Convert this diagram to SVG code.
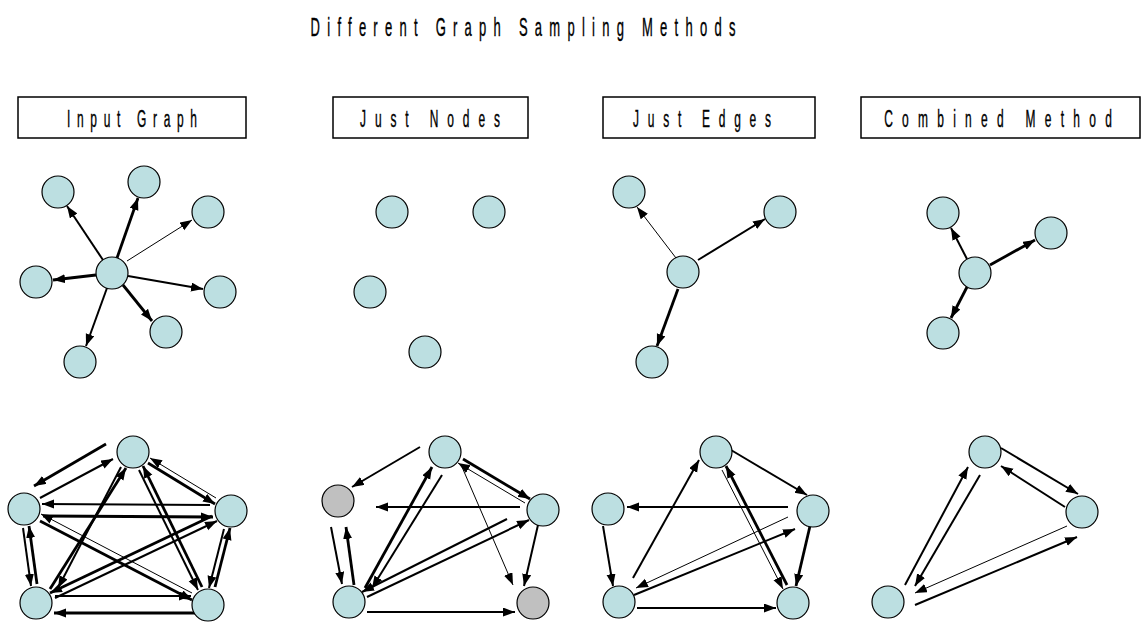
<svg xmlns="http://www.w3.org/2000/svg" width="1145" height="623" viewBox="0 0 1145 623">
<style>
.node{fill:#BCDFE1;stroke:#000;stroke-width:1.2}
.gray{fill:#C0C0C0}
.e line{stroke:#000;fill:none;marker-end:url(#ah)}
.w1{stroke-width:1}
.w2{stroke-width:2}
.w3{stroke-width:2.8}
.box{fill:#fff;stroke:#000;stroke-width:1.5}
text{font-family:"Liberation Sans",Arial,sans-serif;fill:#000;stroke:#000;stroke-width:0.4}
</style>
<defs>
<marker id="ah" markerUnits="userSpaceOnUse" markerWidth="13" markerHeight="10" refX="12" refY="4.5" orient="auto"><path d="M0,0 L12,4.5 L0,9 z" fill="#000"/></marker>
</defs>
<rect width="1145" height="623" fill="#fff"/>
<text id="title" transform="translate(523,36) scale(0.52,1)" text-anchor="middle" font-size="25" textLength="817" lengthAdjust="spacing">Different Graph Sampling Methods</text>

<g id="label-input"><rect class="box" x="18" y="97" width="228" height="41"/><text transform="translate(132,127) scale(0.52,1)" text-anchor="middle" font-size="23" textLength="250" lengthAdjust="spacing">Input Graph</text></g>
<g id="label-nodes"><rect class="box" x="333" y="97" width="195" height="41"/><text transform="translate(430,127) scale(0.52,1)" text-anchor="middle" font-size="23" textLength="269" lengthAdjust="spacing">Just Nodes</text></g>
<g id="label-edges"><rect class="box" x="603" y="97" width="212" height="41"/><text transform="translate(702,127) scale(0.52,1)" text-anchor="middle" font-size="23" textLength="265" lengthAdjust="spacing">Just Edges</text></g>
<g id="label-combined"><rect class="box" x="861" y="97" width="279" height="41"/><text transform="translate(998,127) scale(0.52,1)" text-anchor="middle" font-size="23" textLength="438" lengthAdjust="spacing">Combined Method</text></g>

<g id="connectors" class="e">
<!-- Input top -->
<line class="w2" x1="103" y1="260" x2="67" y2="206"/>
<line class="w3" x1="117" y1="258" x2="138" y2="198"/>
<line class="w1" x1="127" y1="261" x2="192" y2="220"/>
<line class="w3" x1="96" y1="275" x2="53" y2="280"/>
<line class="w2" x1="128" y1="276" x2="203" y2="289"/>
<line class="w3" x1="123" y1="285" x2="152" y2="321"/>
<line class="w2" x1="107" y1="288" x2="86" y2="346"/>
<!-- Just Edges top -->
<line class="w1" x1="676" y1="258" x2="637" y2="207"/>
<line class="w2" x1="698" y1="260" x2="765" y2="219"/>
<line class="w3" x1="678" y1="289" x2="657" y2="346"/>
<!-- Combined top -->
<line class="w2" x1="967" y1="259" x2="951" y2="228"/>
<line class="w3" x1="990" y1="265" x2="1035" y2="240"/>
<line class="w3" x1="967" y1="287" x2="951" y2="318"/>
<!-- Input bottom -->
<line class="w3" x1="106" y1="444" x2="34" y2="486"/>
<line class="w2" x1="40" y1="498" x2="113" y2="459"/>
<line class="w3" x1="148" y1="463" x2="215" y2="504"/>
<line class="w1" x1="216" y1="498" x2="150" y2="458"/>
<line class="w2" x1="121" y1="467" x2="58" y2="588"/>
<line class="w3" x1="50" y1="589" x2="126" y2="468"/>
<line class="w2" x1="139" y1="470" x2="198" y2="590"/>
<line class="w3" x1="202" y1="587" x2="143" y2="466"/>
<line class="w2" x1="210" y1="505" x2="42" y2="504"/>
<line class="w3" x1="43" y1="516" x2="213" y2="517"/>
<line class="w2" x1="23" y1="528" x2="31" y2="586"/>
<line class="w3" x1="37" y1="584" x2="29" y2="526"/>
<line class="w3" x1="40" y1="521" x2="192" y2="600"/>
<line class="w1" x1="192" y1="593" x2="41" y2="514"/>
<line class="w3" x1="212" y1="516" x2="50" y2="593"/>
<line class="w2" x1="55" y1="598" x2="217" y2="521"/>
<line class="w2" x1="224" y1="529" x2="209" y2="588"/>
<line class="w3" x1="215" y1="587" x2="230" y2="528"/>
<line class="w2" x1="55" y1="596" x2="191" y2="596"/>
<line class="w3" x1="195" y1="613" x2="54" y2="613"/>
<!-- Just Nodes bottom -->
<line class="w2" x1="420" y1="447" x2="352" y2="487"/>
<line class="w3" x1="463" y1="459" x2="530" y2="499"/>
<line class="w1" x1="525" y1="503" x2="458" y2="463"/>
<line class="w2" x1="520" y1="507" x2="376" y2="507"/>
<line class="w2" x1="331" y1="527" x2="342" y2="584"/>
<line class="w3" x1="354" y1="585" x2="346" y2="527"/>
<line class="w3" x1="365" y1="588" x2="432" y2="467"/>
<line class="w2" x1="442" y1="475" x2="372" y2="588"/>
<line class="w2" x1="367" y1="597" x2="529" y2="520"/>
<line class="w2" x1="507" y1="519" x2="362" y2="592"/>
<line class="w2" x1="367" y1="612" x2="515" y2="612"/>
<line class="w1" x1="462" y1="467" x2="513" y2="585"/>
<line class="w2" x1="538" y1="525" x2="524" y2="586"/>
<!-- Just Edges bottom -->
<line class="w2" x1="731" y1="450" x2="807" y2="495"/>
<line class="w2" x1="788" y1="507" x2="627" y2="507"/>
<line class="w2" x1="603" y1="526" x2="613" y2="586"/>
<line class="w2" x1="633" y1="578" x2="699" y2="460"/>
<line class="w2" x1="634" y1="595" x2="795" y2="529"/>
<line class="w1" x1="788" y1="517" x2="636" y2="588"/>
<line class="w1" x1="722" y1="470" x2="783" y2="589"/>
<line class="w3" x1="787" y1="585" x2="726" y2="466"/>
<line class="w3" x1="810" y1="526" x2="796" y2="586"/>
<line class="w2" x1="637" y1="608" x2="776" y2="608"/>
<!-- Combined bottom -->
<line class="w2" x1="1001" y1="448" x2="1078" y2="494"/>
<line class="w2" x1="1065" y1="507" x2="1001" y2="466"/>
<line class="w2" x1="905" y1="585" x2="968" y2="467"/>
<line class="w2" x1="980" y1="475" x2="915" y2="586"/>
<line class="w1" x1="1067" y1="526" x2="915" y2="593"/>
<line class="w2" x1="915" y1="605" x2="1077" y2="537"/>
</g>

<g id="input-top">
<circle id="it-c" class="node" cx="112" cy="273" r="16"/>
<circle id="it-tl" class="node" cx="58" cy="192" r="16"/>
<circle id="it-t" class="node" cx="144" cy="182" r="16"/>
<circle id="it-ru" class="node" cx="208" cy="212" r="16"/>
<circle id="it-l" class="node" cx="36" cy="282" r="16"/>
<circle id="it-r" class="node" cx="220" cy="292" r="16"/>
<circle id="it-lr" class="node" cx="166" cy="332" r="16"/>
<circle id="it-b" class="node" cx="80" cy="362" r="16"/>
</g>
<g id="nodes-top">
<circle id="nt-1" class="node" cx="392" cy="212" r="16"/>
<circle id="nt-2" class="node" cx="489" cy="212" r="16"/>
<circle id="nt-3" class="node" cx="370" cy="292" r="16"/>
<circle id="nt-4" class="node" cx="425" cy="352" r="16"/>
</g>
<g id="edges-top">
<circle id="et-c" class="node" cx="683" cy="272" r="16"/>
<circle id="et-tl" class="node" cx="629" cy="192" r="16"/>
<circle id="et-r" class="node" cx="780" cy="212" r="16"/>
<circle id="et-b" class="node" cx="652" cy="362" r="16"/>
</g>
<g id="combined-top">
<circle id="ct-c" class="node" cx="975" cy="273" r="16"/>
<circle id="ct-tl" class="node" cx="943" cy="213" r="16"/>
<circle id="ct-r" class="node" cx="1051" cy="233" r="16"/>
<circle id="ct-b" class="node" cx="943" cy="333" r="16"/>
</g>
<g id="input-bottom">
<circle id="ib-t" class="node" cx="133" cy="452" r="16"/>
<circle id="ib-l" class="node" cx="24" cy="509" r="16"/>
<circle id="ib-r" class="node" cx="231" cy="511" r="16"/>
<circle id="ib-bl" class="node" cx="36" cy="603" r="16"/>
<circle id="ib-br" class="node" cx="208" cy="605" r="16"/>
</g>
<g id="nodes-bottom">
<circle id="nb-t" class="node" cx="445" cy="452" r="16"/>
<circle id="nb-l" class="node gray" cx="338" cy="501" r="16"/>
<circle id="nb-r" class="node" cx="543" cy="510" r="16"/>
<circle id="nb-bl" class="node" cx="349" cy="602" r="16"/>
<circle id="nb-br" class="node gray" cx="533" cy="603" r="16"/>
</g>
<g id="edges-bottom">
<circle id="eb-t" class="node" cx="716" cy="452" r="16"/>
<circle id="eb-l" class="node" cx="608" cy="509" r="16"/>
<circle id="eb-r" class="node" cx="813" cy="511" r="16"/>
<circle id="eb-bl" class="node" cx="619" cy="602" r="16"/>
<circle id="eb-br" class="node" cx="793" cy="603" r="16"/>
</g>
<g id="combined-bottom">
<circle id="cb-t" class="node" cx="985" cy="452" r="16"/>
<circle id="cb-r" class="node" cx="1082" cy="512" r="16"/>
<circle id="cb-bl" class="node" cx="888" cy="602" r="16"/>
</g>
</svg>
